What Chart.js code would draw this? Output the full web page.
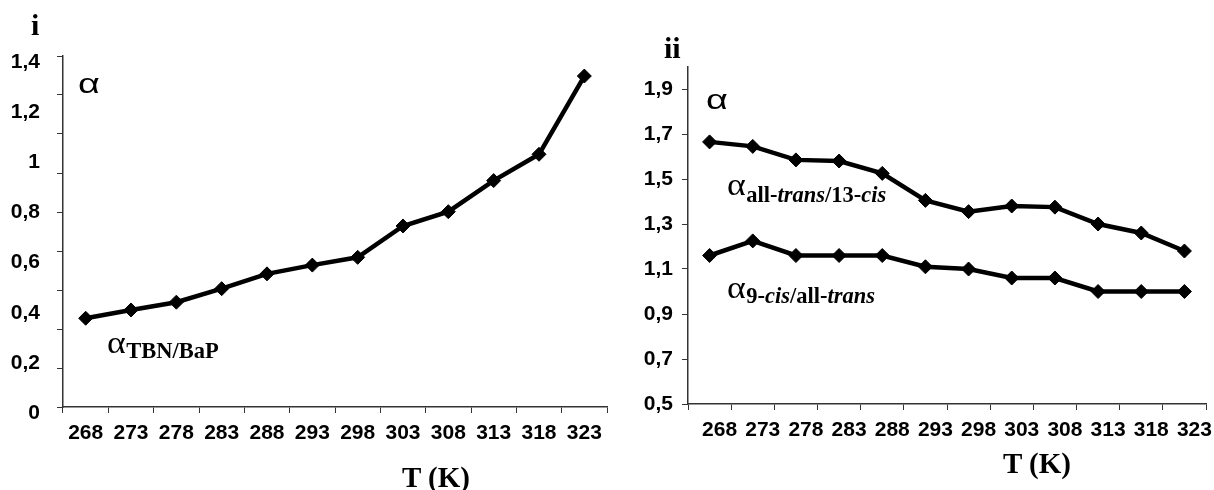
<!DOCTYPE html>
<html><head><meta charset="utf-8">
<script src="https://cdn.jsdelivr.net/npm/chart.js@4"></script>
<style>
html,body{margin:0;padding:0;background:#fff;overflow:hidden;width:1214px;height:490px;}
#wrap{position:relative;width:1214px;height:490px;overflow:hidden;}
canvas{position:absolute;top:0;}
.t{position:absolute;line-height:1;white-space:nowrap;color:#000;}
.serif{font-family:'Liberation Serif','Times New Roman',serif;}
.sans{font-family:'Liberation Sans',Arial,sans-serif;}
.wide{transform:scaleX(1.35);transform-origin:0 0;}
.a{display:inline-block;transform:scaleX(1.15);transform-origin:0 0;margin-right:3px;}
.sub{font-size:22.5px;font-weight:bold;position:relative;}
</style></head>
<body><div id="wrap">
<canvas id="c1" width="620" height="490" style="left:0"></canvas>
<canvas id="c2" width="594" height="490" style="left:620px"></canvas>
<div class="t serif" style="left:31px;top:10px;font-size:30px;font-weight:bold">i</div>
<div class="t serif" style="left:664px;top:33px;font-size:30px;font-weight:bold">ii</div>
<div class="t sans wide" style="left:78px;top:70px;font-size:28px">α</div>
<div class="t sans wide" style="left:706px;top:86px;font-size:28px">α</div>
<div class="t serif" style="left:107px;top:327px;font-size:31px"><span class="a">α</span><span class="sub" style="top:5px">TBN/BaP</span></div>
<div class="t serif" style="left:727px;top:169px;font-size:31px"><span class="a">α</span><span class="sub" style="top:7px">all-<i>trans</i>/13-<i>cis</i></span></div>
<div class="t serif" style="left:727px;top:272px;font-size:31px"><span class="a">α</span><span class="sub" style="top:5px">9-<i>cis</i>/all-<i>trans</i></span></div>
<div class="t serif" style="left:402px;top:463px;font-size:29px;font-weight:bold">T (K)</div>
<div class="t serif" style="left:1003px;top:449px;font-size:29px;font-weight:bold">T (K)</div>
</div>
<script>
const temps = ['268','273','278','283','288','293','298','303','308','313','318','323'];
const alphaTbnBap = [0.354,0.387,0.418,0.472,0.531,0.566,0.597,0.722,0.779,0.903,1.008,1.320];
const alphaAllTrans13Cis = [1.665,1.645,1.585,1.58,1.525,1.405,1.355,1.38,1.375,1.30,1.26,1.18];
const alpha9CisAllTrans = [1.16,1.225,1.16,1.16,1.16,1.11,1.10,1.06,1.06,1.0,1.0,1.0];
const yTickValsI = [0,0.2,0.4,0.6,0.8,1,1.2,1.4];
const yTickLabelsI = ['0','0,2','0,4','0,6','0,8','1','1,2','1,4'];
const yTickValsII = [0.5,0.7,0.9,1.1,1.3,1.5,1.7,1.9];
const yTickLabelsII = ['0,5','0,7','0,9','1,1','1,3','1,5','1,7','1,9'];

const tickFont = {family:"'Liberation Sans', Arial, sans-serif", size:21, weight:'bold'};
const axisColor = '#333';

function lineDs(data){
  return {data, borderColor:'#000', backgroundColor:'#000', borderWidth:4.5,
    pointStyle:'rectRot', pointRadius:7, pointBorderWidth:1,
    pointBackgroundColor:'#000', pointBorderColor:'#000', tension:0, fill:false};
}
function xAxis(labelOffset){
  return {type:'category', offset:true,
    grid:{offset:true, drawOnChartArea:false, drawTicks:true, tickLength:6, color:axisColor, lineWidth:1},
    border:{display:true, color:axisColor, width:1.5},
    ticks:{font:tickFont, color:'#000', padding:8, maxRotation:0, minRotation:0, autoSkip:false, labelOffset},
    afterFit:s=>{s.height=40;}};
}
const common = {responsive:false, animation:false,
  plugins:{legend:{display:false}, tooltip:{enabled:false}, title:{display:false}}};

new Chart(document.getElementById('c1'), {
  type:'line',
  data:{labels:temps, datasets:[{...lineDs(alphaTbnBap), yAxisID:'y'}]},
  options:{...common,
    layout:{padding:{left:0, right:13, top:56, bottom:43}},
    scales:{
      x:xAxis(0),
      yl:{type:'linear', position:'left', weight:1, min:0, max:1.4,
        grid:{display:false, drawTicks:false}, border:{display:false},
        afterBuildTicks:s=>{s.ticks=yTickValsI.map(v=>({value:v}));},
        ticks:{font:tickFont, color:'#000', padding:17, labelOffset:6, callback:(v,i)=>yTickLabelsI[i]},
        afterFit:s=>{s.width=57;}},
      y:{type:'linear', position:'left', weight:0, min:0, max:1.4,
        ticks:{display:false, count:10},
        grid:{drawOnChartArea:false, drawTicks:true, tickLength:6, color:axisColor},
        border:{display:true, color:axisColor, width:1.5},
        afterFit:s=>{s.width=6;}}
    }}
});

new Chart(document.getElementById('c2'), {
  type:'line',
  data:{labels:temps, datasets:[lineDs(alphaAllTrans13Cis), lineDs(alpha9CisAllTrans)]},
  options:{...common,
    layout:{padding:{left:0, right:5, top:66.5, bottom:46}},
    scales:{
      x:xAxis(10),
      y:{type:'linear', position:'left', min:0.5, max:2.0,
        afterBuildTicks:s=>{s.ticks=yTickValsII.map(v=>({value:v}));},
        ticks:{font:tickFont, color:'#000', padding:9, callback:(v,i)=>yTickLabelsII[i]},
        grid:{drawOnChartArea:false, drawTicks:true, tickLength:6, color:axisColor},
        border:{display:true, color:axisColor, width:1.5},
        afterFit:s=>{s.width=68;}}
    }}
});
</script>
</body></html>
